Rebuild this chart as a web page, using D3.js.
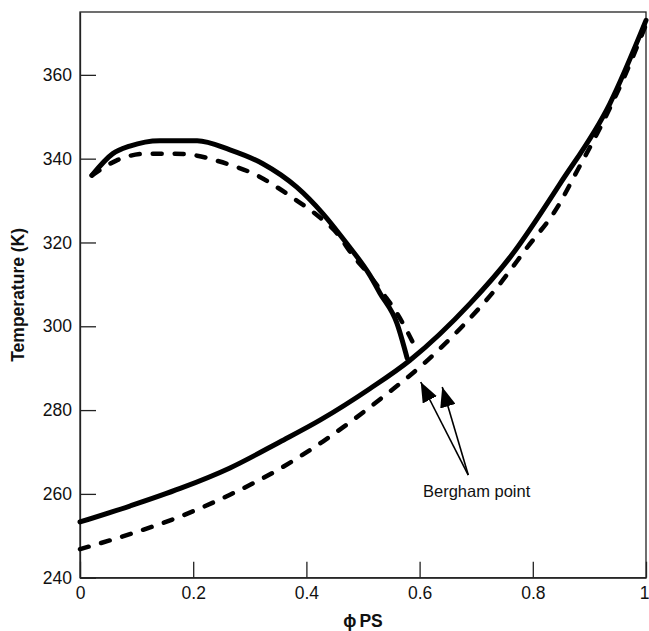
<!DOCTYPE html>
<html>
<head>
<meta charset="utf-8">
<script src="https://cdn.jsdelivr.net/npm/d3@7"></script>
<style>
  html, body { margin: 0; padding: 0; background: #fff; }
  svg { display: block; }
  text { font-family: "Liberation Sans", Arial, sans-serif; fill: #111; }
</style>
</head>
<body>
<script>
// ---- data ----
const xTicks = [0, 0.2, 0.4, 0.6, 0.8, 1];
const xTickLabels = ["0", "0.2", "0.4", "0.6", "0.8", "1"];
const yTicks = [240, 260, 280, 300, 320, 340, 360];
const yTickLabels = ["240", "260", "280", "300", "320", "340", "360"];

// lower solid curve
const phiSolidLow = [0, 0.088, 0.177, 0.265, 0.353, 0.424, 0.512, 0.583, 0.689, 0.760, 0.848, 0.936, 1.0];
const tSolidLow   = [253.3, 257.1, 261.3, 266.2, 272.4, 277.6, 285.1, 291.9, 305.4, 316.5, 334.0, 353.1, 373.0];

// lower dashed curve
const phiDashLow = [0, 0.088, 0.177, 0.265, 0.353, 0.429, 0.535, 0.610, 0.677, 0.737, 0.790, 0.843, 0.878, 0.919, 0.96, 1.0];
const tDashLow   = [246.8, 250.4, 254.6, 259.8, 266.0, 272.5, 283.1, 291.4, 300.2, 309.3, 318.8, 328.3, 337.0, 347.4, 359.0, 372.0];

// upper solid curve
const phiSolidUp = [0.021, 0.058, 0.088, 0.141, 0.207, 0.265, 0.323, 0.383, 0.429, 0.471, 0.512, 0.530, 0.560, 0.578];
const tSolidUp   = [336.0, 341.2, 343.0, 344.3, 344.3, 342.1, 338.8, 333.2, 326.9, 319.8, 312.2, 307.9, 300.7, 292.4];

// upper dashed curve
const phiDashUp = [0.021, 0.065, 0.118, 0.165, 0.207, 0.242, 0.277, 0.313, 0.348, 0.383, 0.419, 0.454, 0.482, 0.509, 0.535, 0.560, 0.580, 0.597];
const tDashUp   = [336.0, 339.6, 341.2, 341.2, 340.7, 339.5, 338.0, 336.0, 333.2, 330.0, 326.5, 322.2, 316.9, 312.6, 307.9, 303.1, 298.3, 293.6];

// annotation
const annotationText = "Bergham point";
const arrowTail = [0.686, 264.5];
const arrowTips = [[0.602, 286.7], [0.640, 285.5]];
const labelPos = [0.606, 259.2];

// ---- layout ----
const W = 649, H = 631;
const mLeft = 80, mRight = 646, mTop = 12, mBottom = 577.7;

const svg = d3.select("body").append("svg").attr("width", W).attr("height", H);

const x = d3.scaleLinear().domain([0, 1]).range([mLeft, mRight]);
const y = d3.scaleLinear().domain([240, 375]).range([mBottom, mTop]);

// frame
svg.append("rect")
  .attr("x", mLeft).attr("y", mTop)
  .attr("width", mRight - mLeft).attr("height", mBottom - mTop)
  .attr("fill", "none").attr("stroke", "#222").attr("stroke-width", 1.3);

// axes
const fs = 17.5;
const gx = svg.append("g").attr("transform", `translate(0,${mBottom})`)
  .call(d3.axisBottom(x).tickValues(xTicks).tickFormat((d, i) => xTickLabels[i])
    .tickSize(-16).tickSizeOuter(0).tickPadding(9));
const gy = svg.append("g").attr("transform", `translate(${mLeft},0)`)
  .call(d3.axisLeft(y).tickValues(yTicks).tickFormat((d, i) => yTickLabels[i])
    .tickSize(-16).tickSizeOuter(0).tickPadding(8));
[gx, gy].forEach(g => {
  g.select(".domain").attr("stroke", "#222").attr("stroke-width", 1.3);
  g.selectAll(".tick line").attr("stroke", "#222").attr("stroke-width", 1.3);
  g.selectAll(".tick text").attr("font-size", fs)
    .attr("font-family", "Liberation Sans, Arial, sans-serif").attr("fill", "#111");
});
// keep the last x label inside the window
gx.selectAll(".tick text").filter(d => d === 1)
  .attr("text-anchor", "end").attr("x", 3);

// axis titles
svg.append("text")
  .attr("transform", `translate(24,${(mTop + mBottom) / 2}) rotate(-90)`)
  .attr("text-anchor", "middle")
  .attr("font-weight", "bold").attr("font-size", fs)
  .text("Temperature (K)");

const xt = svg.append("text")
  .attr("x", (mLeft + mRight) / 2).attr("y", 627)
  .attr("text-anchor", "middle")
  .attr("font-weight", "bold").attr("font-size", fs);
xt.append("tspan").text("ϕ");
xt.append("tspan").attr("dx", 3).text("PS");

// curves
const line = d3.line().x(d => x(d[0])).y(d => y(d[1])).curve(d3.curveMonotoneX);
const zip = (a, b) => a.map((v, i) => [v, b[i]]);

const plot = svg.append("g");
plot.append("path").datum(zip(phiSolidLow, tSolidLow))
  .attr("d", line).attr("fill", "none").attr("stroke", "#000")
  .attr("stroke-width", 5).attr("stroke-linecap", "round");
plot.append("path").datum(zip(phiDashLow, tDashLow))
  .attr("d", line).attr("fill", "none").attr("stroke", "#000")
  .attr("stroke-width", 4.5).attr("stroke-linecap", "round")
  .attr("stroke-dasharray", "9,13");
plot.append("path").datum(zip(phiSolidUp, tSolidUp))
  .attr("d", line).attr("fill", "none").attr("stroke", "#000")
  .attr("stroke-width", 5).attr("stroke-linecap", "round");
plot.append("path").datum(zip(phiDashUp, tDashUp))
  .attr("d", line).attr("fill", "none").attr("stroke", "#000")
  .attr("stroke-width", 4.5).attr("stroke-linecap", "round")
  .attr("stroke-dasharray", "9,13");

// arrows
svg.append("defs").append("marker")
  .attr("id", "ah").attr("viewBox", "0 0 20 16")
  .attr("refX", 20).attr("refY", 8)
  .attr("markerWidth", 20).attr("markerHeight", 16)
  .attr("markerUnits", "userSpaceOnUse")
  .attr("orient", "auto")
  .append("path").attr("d", "M0,0 L20,8 L0,16 Z").attr("fill", "#000");

arrowTips.forEach(t => {
  svg.append("line")
    .attr("x1", x(arrowTail[0])).attr("y1", y(arrowTail[1]))
    .attr("x2", x(t[0])).attr("y2", y(t[1]))
    .attr("stroke", "#000").attr("stroke-width", 1.6)
    .attr("marker-end", "url(#ah)");
});

svg.append("text")
  .attr("x", x(labelPos[0])).attr("y", y(labelPos[1]))
  .attr("font-size", 16.5)
  .text(annotationText);
</script>
</body>
</html>
